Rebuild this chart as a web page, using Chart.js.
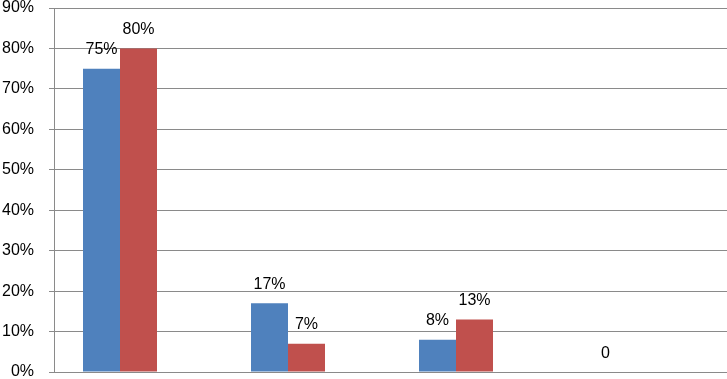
<!DOCTYPE html>
<html>
<head>
<meta charset="utf-8">
<script src="https://cdn.jsdelivr.net/npm/chart.js@4.4.1/dist/chart.umd.min.js"></script>
<style>
html,body{margin:0;padding:0;background:#fff;}
#wrap{width:727px;height:379px;position:relative;}
</style>
</head>
<body>
<div id="wrap"><canvas id="c" width="727" height="379"></canvas></div>
<script>
// Data
const categories = [0, 1, 2, 3];
const blueValues = [75, 17, 8, 0];
const redValues = [80, 7, 13, null];
const blueLabels = ['75%', '17%', '8%', '0'];
const redLabels = ['80%', '7%', '13%', ''];
const yTicks = [0, 10, 20, 30, 40, 50, 60, 70, 80, 90];

const FONT = '"Liberation Sans", Arial, sans-serif';

const labelPlugin = {
  id: 'valueLabels',
  afterDatasetsDraw(chart) {
    const ctx = chart.ctx;
    ctx.save();
    ctx.font = '16px ' + FONT;
    ctx.fillStyle = '#000';
    ctx.textAlign = 'center';
    ctx.textBaseline = 'alphabetic';
    chart.data.datasets.forEach((ds, di) => {
      const meta = chart.getDatasetMeta(di);
      meta.data.forEach((el, i) => {
        const txt = ds.valueLabels[i];
        if (!txt) return;
        ctx.fillText(txt, el.x, el.y - 14.5);
      });
    });
    ctx.restore();
  }
};

new Chart(document.getElementById('c'), {
  type: 'bar',
  data: {
    datasets: [
      {
        data: categories.map((c, i) => ({x: c, y: blueValues[i]})),
        valueLabels: blueLabels,
        backgroundColor: '#4F81BD',
        borderWidth: 0,
        categoryPercentage: 74 / 168,
        barPercentage: 1.0
      },
      {
        data: categories.map((c, i) => ({x: c, y: redValues[i]})),
        valueLabels: redLabels,
        backgroundColor: '#C0504D',
        borderWidth: 0,
        categoryPercentage: 74 / 168,
        barPercentage: 1.0
      }
    ]
  },
  options: {
    responsive: false,
    animation: false,
    layout: {padding: {top: 0, right: 0, bottom: 0, left: 0}},
    plugins: {legend: {display: false}, tooltip: {enabled: false}},
    scales: {
      x: {
        type: 'linear',
        display: false,
        offset: false,
        min: -66 / 168,
        max: -66 / 168 + 673 / 168,
        afterBuildTicks(scale) { scale.ticks = categories.map(v => ({value: v})); }
      },
      y: {
        min: 0,
        max: 90,
        afterFit(scale) {
          scale.width = 54;
          scale.paddingTop = 8;
          scale.paddingBottom = 7;
        },
        afterBuildTicks(scale) { scale.ticks = yTicks.map(v => ({value: v})); },
        ticks: {
          color: '#000',
          padding: 15,
          font: {family: FONT, size: 16, lineHeight: 1},
          callback: v => v + '%'
        },
        grid: {
          color: '#8a8a8a',
          lineWidth: 1,
          tickLength: 5,
          drawTicks: true
        },
        border: {display: true, color: '#8a8a8a', width: 1}
      }
    }
  },
  plugins: [labelPlugin]
});
</script>
</body>
</html>
